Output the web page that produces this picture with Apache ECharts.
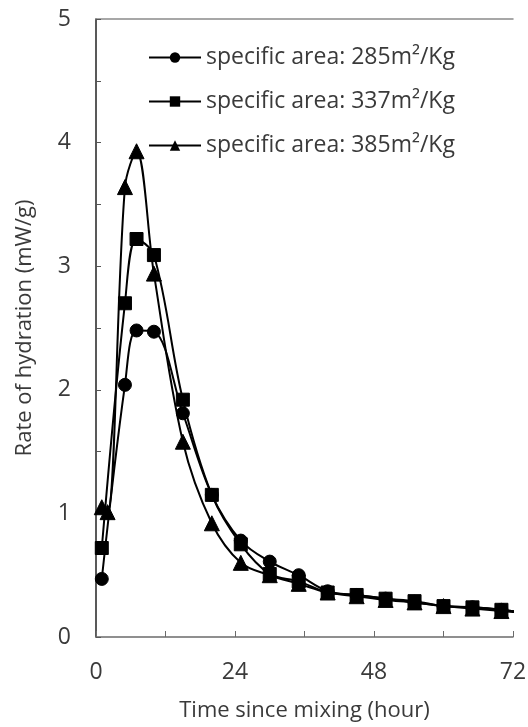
<!DOCTYPE html>
<html><head><meta charset="utf-8">
<script src="https://cdn.jsdelivr.net/npm/echarts@6/dist/echarts.min.js"></script>
<style>html,body{margin:0;padding:0;background:#fff}#c{width:528px;height:727px}</style>
</head><body><div id="c"></div>
<script>
const seriesNames = ['specific area: 285m²/Kg', 'specific area: 337m²/Kg', 'specific area: 385m²/Kg'];
const time285 = [1, 5, 7, 10, 15, 20, 25, 30, 35, 40, 45, 50, 55, 60, 65, 70, 75];
const rate285 = [0.47, 2.04, 2.48, 2.47, 1.81, 1.15, 0.78, 0.61, 0.50, 0.37, 0.34, 0.31, 0.28, 0.25, 0.24, 0.22, 0.19];
const time337 = [1, 5, 7, 10, 15, 20, 25, 30, 35, 40, 45, 50, 55, 60, 65, 70, 75];
const rate337 = [0.72, 2.70, 3.22, 3.09, 1.92, 1.15, 0.75, 0.51, 0.45, 0.36, 0.34, 0.31, 0.29, 0.25, 0.24, 0.22, 0.19];
const time385 = [1, 2, 5, 7, 10, 15, 20, 25, 30, 35, 40, 45, 50, 55, 60, 65, 70, 75];
const rate385 = [1.05, 1.01, 3.64, 3.93, 2.94, 1.58, 0.92, 0.60, 0.50, 0.43, 0.36, 0.33, 0.30, 0.28, 0.25, 0.23, 0.21, 0.19];
const xTicks = [0, 24, 48, 72];
const yTicks = [0, 1, 2, 3, 4, 5];
const symbols = ['circle', 'rect', 'triangle'];

const zip = (a, b) => a.map((v, i) => [v, b[i]]);
const dataSets = [zip(time285, rate285), zip(time337, rate337), zip(time385, rate385)];
const font = '"Open Sans", sans-serif';
const txt = '#3a3a3a';
const chart = echarts.init(document.getElementById('c'));
chart.setOption({
  animation: false,
  backgroundColor: '#fff',
  grid: { left: 96, right: 15, top: 19, bottom: 90, outerBoundsMode: 'none', containLabel: false },
  legend: {
    orient: 'vertical', left: 143, top: 41, itemWidth: 52, itemHeight: 13, itemGap: 21,
    textStyle: { fontFamily: font, fontSize: 23, color: txt },
    data: seriesNames
  },
  xAxis: [{
    type: 'value', min: 0, max: 72, interval: 24,
    name: 'Time since mixing (hour)', nameLocation: 'middle', nameGap: 63,
    nameTextStyle: { fontFamily: font, fontSize: 22, color: txt },
    axisLine: { lineStyle: { color: '#6b6b6b', width: 1.5 } },
    axisTick: { inside: true, length: 6, lineStyle: { color: '#6b6b6b' } },
    minorTick: { show: true, splitNumber: 2, length: 6, lineStyle: { color: '#6b6b6b' } },
    axisLabel: { fontFamily: font, fontSize: 23, color: txt, margin: 24, customValues: xTicks },
    splitLine: { show: false }
  }, {
    type: 'value', position: 'top', min: 0, max: 72,
    axisLine: { show: true, onZero: false, lineStyle: { color: '#8a8a8a', width: 1.5 } },
    axisTick: { show: false }, axisLabel: { show: false }, splitLine: { show: false }
  }],
  yAxis: {
    type: 'value', min: 0, max: 5, interval: 1,
    name: 'Rate of hydration (mW/g)', nameLocation: 'middle', nameGap: 60,
    nameTextStyle: { fontFamily: font, fontSize: 22, color: txt },
    axisLine: { show: true, lineStyle: { color: '#222', width: 1.5 } },
    axisTick: { inside: true, length: 5, lineStyle: { color: '#555' } },
    minorTick: { show: true, splitNumber: 2, length: 5, lineStyle: { color: '#555' } },
    axisLabel: { fontFamily: font, fontSize: 23, color: txt, margin: 25, customValues: yTicks },
    splitLine: { show: false }
  },
  series: seriesNames.map((n, i) => ({
    name: n, type: 'line', data: dataSets[i], smooth: 0.35,
    symbol: symbols[i], symbolSize: i === 2 ? 15 : 13, showAllSymbol: true,
    lineStyle: { color: '#000', width: 2 },
    itemStyle: { color: '#000', borderColor: '#000' },
    clip: true
  }))
});
</script></body></html>
